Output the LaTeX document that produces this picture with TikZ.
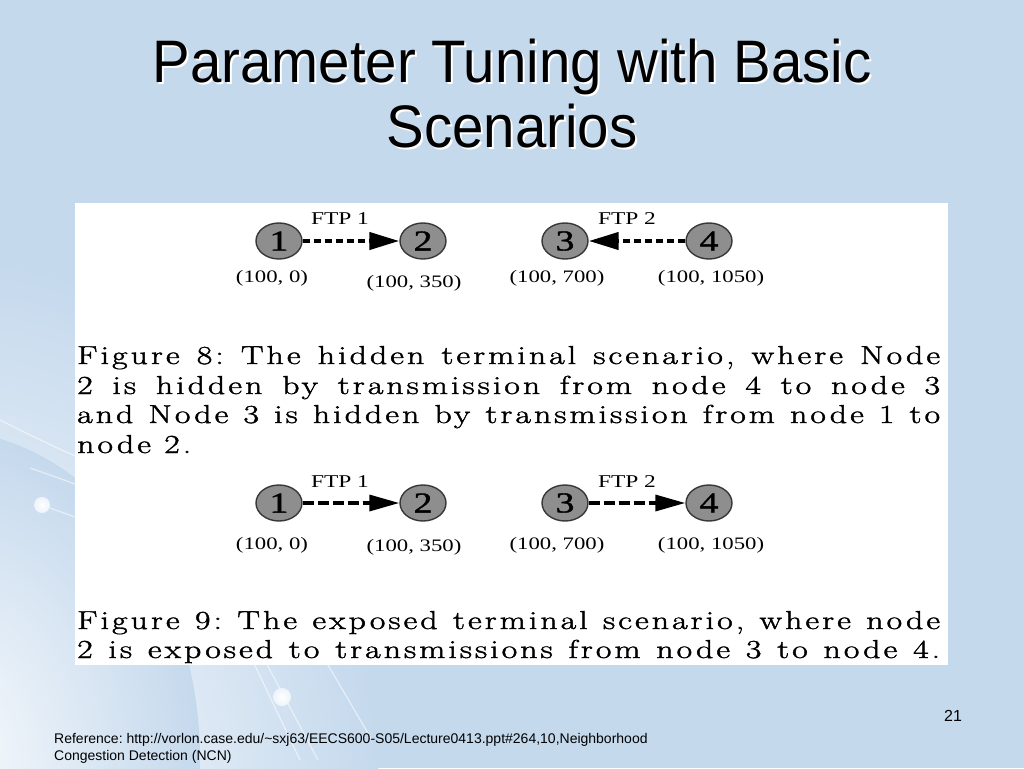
\documentclass[tikz,border=0pt]{standalone}
\usepackage{fontspec}
\usepackage{graphicx}
\usetikzlibrary{shapes.geometric,arrows.meta}
\frenchspacing
\newfontfamily\arialf{Liberation Sans}
\newfontfamily\timesf{Liberation Serif}
\newfontfamily\timesnum[FakeBold=1.2]{Liberation Serif}
\newfontfamily\capf[LetterSpace=9,FakeBold=1.4]{Latin Modern Roman}
\definecolor{bgblue}{RGB}{197,217,237}
\definecolor{nodegray}{RGB}{142,142,142}
\definecolor{nodeedge}{RGB}{55,55,55}
\newcommand{\dtx}[1]{\scalebox{1.3}[1]{#1}}
\newcommand{\capline}[1]{\scalebox{1.3}[1]{\makebox[663.8pt][s]{#1}}}
\newcommand{\capshort}[1]{\scalebox{1.3}[1]{#1}}
\tikzset{
  titletext/.style={anchor=base, inner sep=0pt, font=\arialf\fontsize{60}{72}\selectfont},
  netnode/.style={ellipse, minimum width=46pt, minimum height=36pt, inner sep=0pt,
    fill=nodegray, draw=nodeedge, line width=1.4pt, font=\timesnum\fontsize{29}{32}\selectfont},
  coordlabel/.style={inner sep=0pt, font=\timesf\fontsize{17.5}{20}\selectfont},
  ftplabel/.style={inner sep=0pt, font=\timesf\fontsize{18}{20}\selectfont},
  ftparrowA/.style={line width=4.2pt, dash pattern=on 7pt off 4pt,
    -{Triangle[length=30pt,width=17pt]}},
  ftparrowB/.style={line width=3.4pt, dash pattern=on 11pt off 4pt,
    -{Triangle[length=30pt,width=16pt]}},
  capltext/.style={anchor=base west, inner sep=0pt, font=\capf\fontsize{26}{30}\selectfont},
  foottext/.style={anchor=base west, inner sep=0pt, font=\arialf\fontsize{14}{16}\selectfont},
  decoline/.style={white, opacity=0.55, line width=1.2pt}
}
\begin{document}
\begin{tikzpicture}[x=1pt, y=-1pt]
\useasboundingbox (0,0) rectangle (1024,768);
% background
\fill[bgblue] (0,0) rectangle (1024,768);
\begin{scope}
  \clip (0,0) rectangle (1024,768);
  \shade[inner color=white, outer color=bgblue] (-40,820) ellipse (420 and 560);
  \shade[inner color=white!90!bgblue, outer color=bgblue] (-60,760) ellipse (260 and 330);
  % decorative lines
  \draw[decoline] (0,420) .. controls (40,440) and (70,455) .. (110,470);
  \draw[decoline] (30,468) .. controls (50,475) and (65,480) .. (90,490);
  \draw[decoline] (50,508) .. controls (60,512) and (70,515) .. (90,522);
  \draw[decoline] (250,655) -- (300,760);
  \draw[decoline] (262,655) -- (318,760);
  \draw[decoline] (328,665) -- (372,740);
  \shade[inner color=white, outer color=white!70!bgblue] (42,505) circle (8);
  \shade[inner color=white, outer color=white!70!bgblue] (282,697) circle (9);
\end{scope}
% title
\node[titletext, white] (t1s) at (514,84) {\scalebox{0.94}[1]{Parameter Tuning with Basic}};
\node[titletext, black] (t1) at (512,82) {\scalebox{0.94}[1]{Parameter Tuning with Basic}};
\node[titletext, white] (t2s) at (514,149) {\scalebox{0.94}[1]{Scenarios}};
\node[titletext, black] (t2) at (512,147) {\scalebox{0.94}[1]{Scenarios}};
% figure panel
\fill[white] (75,203) rectangle (948,665);
% row 1: hidden terminal
\node[netnode] (a1) at (279,241) {\dtx{1}};
\node[netnode] (a2) at (423,241) {\dtx{2}};
\node[netnode] (a3) at (565,241) {\dtx{3}};
\node[netnode] (a4) at (709,241) {\dtx{4}};
\draw[ftparrowA] (a1) -- (a2);
\draw[ftparrowA] (a4) -- (a3);
\node[ftplabel] (fa1) at (340,219) {\dtx{FTP 1}};
\node[ftplabel] (fa2) at (627,219) {\dtx{FTP 2}};
\node[coordlabel] (ca1) at (272,278) {\dtx{(100, 0)}};
\node[coordlabel] (ca2) at (414,283) {\dtx{(100, 350)}};
\node[coordlabel] (ca3) at (557,278) {\dtx{(100, 700)}};
\node[coordlabel] (ca4) at (711,278) {\dtx{(100, 1050)}};
% caption 8
\node[capltext] (c81) at (77,364) {\capline{Figure 8: The hidden terminal scenario, where Node}};
\node[capltext] (c82) at (77,394) {\capline{2 is hidden by transmission from node 4 to node 3}};
\node[capltext] (c83) at (77,423) {\capline{and Node 3 is hidden by transmission from node 1 to}};
\node[capltext] (c84) at (77,453) {\capshort{node 2.}};
% row 2: exposed terminal
\node[netnode] (b1) at (279,503) {\dtx{1}};
\node[netnode] (b2) at (423,503) {\dtx{2}};
\node[netnode] (b3) at (565,503) {\dtx{3}};
\node[netnode] (b4) at (709,503) {\dtx{4}};
\draw[ftparrowB] (b1) -- (b2);
\draw[ftparrowB] (b3) -- (b4);
\node[ftplabel] (fb1) at (340,482) {\dtx{FTP 1}};
\node[ftplabel] (fb2) at (627,482) {\dtx{FTP 2}};
\node[coordlabel] (cb1) at (272,545) {\dtx{(100, 0)}};
\node[coordlabel] (cb2) at (414,547) {\dtx{(100, 350)}};
\node[coordlabel] (cb3) at (557,545) {\dtx{(100, 700)}};
\node[coordlabel] (cb4) at (711,545) {\dtx{(100, 1050)}};
% caption 9
\node[capltext] (c91) at (77,629) {\capline{Figure 9: The exposed terminal scenario, where node}};
\node[capltext] (c92) at (77,658) {\capline{2 is exposed to transmissions from node 3 to node 4.}};
% footer
\node[inner sep=0pt, font=\arialf\fontsize{16}{18}\selectfont] (pg) at (953,716) {21};
\node[foottext] (r1) at (54,743) {Reference: http://vorlon.case.edu/\textasciitilde sxj63/EECS600-S05/Lecture0413.ppt\#264,10,Neighborhood};
\node[foottext] (r2) at (54,760) {Congestion Detection (NCN)};
\end{tikzpicture}
\end{document}
